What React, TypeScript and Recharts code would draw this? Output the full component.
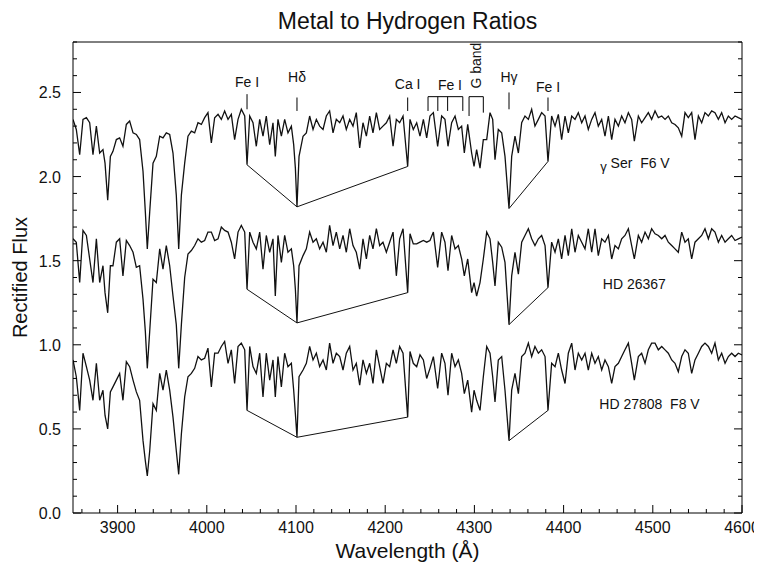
import React from 'react';
import { LineChart, Line, XAxis, YAxis, ReferenceLine, ReferenceDot, Label } from 'recharts';

const FONT = '"Liberation Sans", Arial, Helvetica, sans-serif';
const INK = '#111';

// wavelength grid (Angstrom), shared by the three spectra
const WAVE = [
  3850, 3853.7, 3857.5, 3861.2, 3865, 3868.7, 3872.4, 3876.2, 3879.9, 3883.6,
  3885.9, 3888.9, 3891.9, 3894.8, 3898.6, 3902.3, 3906, 3909.8, 3913.5, 3917.3,
  3921, 3924.7, 3928.5, 3931.1, 3933.3, 3936, 3939.7, 3943.4, 3947.2, 3950.9,
  3954.6, 3958.4, 3962.1, 3965.8, 3968.5, 3971.5, 3975.2, 3978.9, 3982.7, 3986.4,
  3990.1, 3993.9, 3997.6, 4001.3, 4005.1, 4008.8, 4012.6, 4016.3, 4020, 4023.8,
  4027.5, 4031.2, 4035, 4038.7, 4042.5, 4045.1, 4048.1, 4051.8, 4055.5, 4059.3,
  4063, 4066.7, 4070.5, 4074.2, 4076.8, 4079.8, 4083.6, 4087.3, 4091, 4094.8,
  4097.4, 4099.3, 4101.1, 4103.4, 4107.9, 4111.6, 4115.3, 4119.1, 4122.8, 4126.5,
  4130.3, 4134, 4137.7, 4141.5, 4145.2, 4149, 4152.7, 4156.4, 4160.2, 4163.9,
  4167.6, 4171.4, 4175.1, 4178.9, 4182.6, 4186.3, 4190.1, 4193.8, 4197.5, 4201.3,
  4205, 4208.8, 4212.5, 4216.2, 4220, 4225.2,
  4227.8, 4231.5, 4235.3, 4239, 4242.8, 4246.5, 4250.2, 4254, 4258.8, 4263.3,
  4267, 4270.4, 4274.5, 4278.3, 4282, 4285.7, 4288.7, 4292.5, 4296.9, 4299.6,
  4302.5, 4306.3, 4310, 4313.8, 4317.5, 4320.5, 4323.1, 4326.8, 4330.6, 4334.3,
  4338.8, 4341.8, 4345.5, 4349.3, 4353, 4356.7, 4360.5, 4364.2, 4367.9, 4371.7,
  4375.4, 4379.2, 4382.5, 4386.6, 4390.4, 4394.1, 4397.8, 4401.6, 4405.3, 4409.1,
  4412.8, 4416.5, 4420.3, 4424, 4427.7, 4431.5, 4435.2, 4438.9, 4442.7, 4446.4,
  4450.2, 4453.9, 4457.6, 4461.4, 4465.1, 4468.8, 4472.6, 4476.3, 4479.3, 4483.8,
  4487.5, 4491.3, 4495, 4498.7, 4502.5, 4506.2, 4510, 4513.7, 4517.4, 4521.2,
  4524.9, 4528.6, 4532.4, 4536.1, 4539.8, 4543.6, 4547.3, 4551.1, 4554.8, 4558.5,
  4562.3, 4566, 4569.7, 4573.5, 4577.2, 4581, 4584.7, 4588.4, 4592.2, 4595.9, 4600,
];

// gamma Ser F6 V (top)
const FLUX_GAMMA_SER = [
  2.34, 2.28, 2.13, 2.34, 2.35, 2.32, 2.13, 2.30, 2.14, 2.16,
  2.08, 1.86, 2.12, 2.15, 2.22, 2.23, 2.18, 2.31, 2.33, 2.26,
  2.25, 2.22, 2.03, 1.79, 1.57, 1.79, 2.08, 2.12, 2.24, 2.23,
  2.26, 2.25, 2.14, 1.89, 1.57, 1.89, 2.08, 2.24, 2.27, 2.26,
  2.32, 2.31, 2.35, 2.38, 2.20, 2.35, 2.37, 2.34, 2.39, 2.34,
  2.37, 2.22, 2.34, 2.40, 2.36, 2.07, 2.36, 2.32, 2.18, 2.34,
  2.24, 2.36, 2.19, 2.32, 2.12, 2.34, 2.24, 2.34, 2.26, 2.30,
  2.19, 2.05, 1.82, 2.12, 2.24, 2.26, 2.36, 2.28, 2.34, 2.30,
  2.28, 2.36, 2.39, 2.26, 2.34, 2.32, 2.36, 2.28, 2.34, 2.30,
  2.38, 2.17, 2.32, 2.24, 2.36, 2.26, 2.38, 2.28, 2.30, 2.32,
  2.36, 2.18, 2.34, 2.32, 2.36, 2.06,
  2.34, 2.28, 2.32, 2.24, 2.34, 2.23, 2.36, 2.38, 2.18, 2.36,
  2.34, 2.18, 2.32, 2.36, 2.28, 2.30, 2.14, 2.31, 2.14, 2.06,
  2.16, 2.05, 2.22, 2.22, 2.38, 2.34, 2.10, 2.28, 2.26, 2.12,
  1.81, 2.12, 2.24, 2.14, 2.32, 2.36, 2.34, 2.40, 2.30, 2.34,
  2.38, 2.36, 2.09, 2.36, 2.30, 2.37, 2.22, 2.36, 2.26, 2.36,
  2.34, 2.38, 2.32, 2.36, 2.28, 2.34, 2.38, 2.30, 2.34, 2.24,
  2.36, 2.22, 2.34, 2.30, 2.36, 2.32, 2.38, 2.34, 2.21, 2.36,
  2.32, 2.35, 2.38, 2.34, 2.39, 2.35, 2.36, 2.34, 2.36, 2.32,
  2.31, 2.29, 2.24, 2.38, 2.35, 2.38, 2.22, 2.36, 2.32, 2.38,
  2.36, 2.39, 2.38, 2.34, 2.38, 2.32, 2.36, 2.34, 2.36, 2.35, 2.34,
];

// HD 26367 (middle)
const FLUX_HD26367 = [
  1.63, 1.61, 1.37, 1.68, 1.65, 1.51, 1.37, 1.63, 1.37, 1.47,
  1.31, 1.19, 1.47, 1.47, 1.61, 1.63, 1.41, 1.62, 1.59, 1.55,
  1.46, 1.47, 1.27, 1.08, 0.86, 1.08, 1.39, 1.37, 1.57, 1.45,
  1.59, 1.47, 1.29, 1.12, 0.86, 1.12, 1.40, 1.54, 1.56, 1.59,
  1.63, 1.61, 1.62, 1.67, 1.67, 1.62, 1.63, 1.70, 1.68, 1.67,
  1.61, 1.51, 1.67, 1.71, 1.67, 1.33, 1.67, 1.61, 1.57, 1.67,
  1.45, 1.65, 1.55, 1.63, 1.29, 1.65, 1.49, 1.65, 1.55, 1.57,
  1.47, 1.33, 1.13, 1.47, 1.53, 1.57, 1.67, 1.61, 1.63, 1.57,
  1.61, 1.55, 1.71, 1.59, 1.67, 1.57, 1.65, 1.55, 1.69, 1.59,
  1.55, 1.45, 1.63, 1.51, 1.65, 1.57, 1.69, 1.59, 1.61, 1.55,
  1.61, 1.67, 1.41, 1.63, 1.69, 1.31,
  1.66, 1.60, 1.60, 1.61, 1.62, 1.61, 1.62, 1.67, 1.46, 1.67,
  1.61, 1.44, 1.65, 1.57, 1.59, 1.51, 1.41, 1.51, 1.31, 1.37,
  1.29, 1.37, 1.51, 1.67, 1.63, 1.49, 1.35, 1.61, 1.58, 1.49,
  1.12, 1.41, 1.55, 1.42, 1.61, 1.65, 1.69, 1.63, 1.59, 1.63,
  1.65, 1.59, 1.34, 1.61, 1.55, 1.63, 1.51, 1.65, 1.53, 1.69,
  1.55, 1.65, 1.61, 1.57, 1.69, 1.55, 1.69, 1.53, 1.63, 1.61,
  1.65, 1.51, 1.59, 1.57, 1.63, 1.65, 1.69, 1.59, 1.51, 1.65,
  1.61, 1.67, 1.63, 1.69, 1.66, 1.65, 1.63, 1.65, 1.61, 1.59,
  1.57, 1.55, 1.67, 1.61, 1.63, 1.51, 1.61, 1.63, 1.65, 1.69,
  1.63, 1.69, 1.67, 1.61, 1.65, 1.61, 1.63, 1.65, 1.62, 1.63, 1.64,
];

// HD 27808 F8 V (bottom)
const FLUX_HD27808 = [
  0.91, 0.81, 0.61, 0.95, 0.87, 0.79, 0.67, 0.89, 0.67, 0.73,
  0.58, 0.50, 0.72, 0.75, 0.79, 0.83, 0.67, 0.90, 0.87, 0.79,
  0.72, 0.67, 0.43, 0.31, 0.22, 0.37, 0.65, 0.61, 0.83, 0.73,
  0.85, 0.73, 0.57, 0.37, 0.23, 0.47, 0.69, 0.81, 0.83, 0.86,
  0.93, 0.91, 0.92, 0.98, 0.75, 0.95, 0.95, 0.99, 1.02, 0.89,
  0.97, 0.77, 0.99, 1.01, 0.97, 0.61, 0.99, 0.87, 0.83, 0.95,
  0.69, 0.95, 0.79, 0.91, 0.69, 0.93, 0.75, 0.95, 0.87, 0.89,
  0.73, 0.59, 0.45, 0.81, 0.85, 0.89, 0.99, 0.91, 0.95, 0.87,
  0.91, 0.85, 1.01, 0.89, 0.95, 0.93, 0.85, 0.95, 0.99, 0.85,
  0.89, 0.76, 0.91, 0.83, 0.89, 0.77, 0.97, 0.87, 0.77, 0.89,
  0.87, 0.97, 0.89, 0.99, 0.95, 0.57,
  0.96, 0.89, 0.87, 0.94, 0.91, 0.80, 0.86, 0.93, 0.74, 0.95,
  0.89, 0.70, 0.95, 0.87, 0.91, 0.83, 0.71, 0.79, 0.60, 0.73,
  0.67, 0.61, 0.81, 0.99, 0.95, 0.81, 0.66, 0.91, 0.93, 0.73,
  0.43, 0.73, 0.83, 0.71, 0.93, 0.95, 1.01, 0.93, 0.99, 0.95,
  0.97, 0.93, 0.61, 0.89, 0.87, 0.95, 0.85, 0.77, 0.95, 1.01,
  0.85, 0.95, 0.91, 0.95, 0.85, 0.95, 0.89, 0.93, 0.85, 0.91,
  0.87, 0.77, 0.87, 0.89, 0.93, 0.97, 1.01, 0.89, 0.79, 0.93,
  0.95, 0.89, 0.97, 1.01, 1.01, 0.97, 0.99, 0.97, 0.95, 0.91,
  0.89, 0.84, 0.93, 0.97, 0.95, 0.83, 0.91, 0.95, 0.99, 1.01,
  0.99, 0.95, 1.01, 0.91, 0.95, 0.89, 0.93, 0.95, 0.93, 0.95, 0.94,
];

// line-depth connectors: Fe I 4045 - Hdelta - Ca I 4226, then Hgamma - Fe I 4383
const LINK_WAVE = [4045.1, 4101.1, 4225.2, 4300, 4338.8, 4382.5];
const LINK_GAMMA_SER = [2.07, 1.82, 2.06, null, 1.81, 2.09];
const LINK_HD26367 = [1.33, 1.13, 1.31, null, 1.12, 1.34];
const LINK_HD27808 = [0.61, 0.45, 0.57, null, 0.43, 0.61];

// line identifications above the top spectrum
const LINE_IDS = [
  { w: 4045.1, top: 2.49, bottom: 2.4, text: 'Fe I', ty: 2.56 },
  { w: 4101.1, top: 2.47, bottom: 2.39, text: 'H\u03b4', ty: 2.59 },
  { w: 4225.2, top: 2.47, bottom: 2.39, text: 'Ca I', ty: 2.55 },
  { w: 4338.8, top: 2.5, bottom: 2.4, text: 'H\u03b3', ty: 2.59 },
  { w: 4382.5, top: 2.47, bottom: 2.39, text: 'Fe I', ty: 2.53 },
];
const FE_BRACKET = [4248, 4259, 4270, 4287];
const G_BRACKET = [4294, 4310];
const BRACKET_Y = 2.475;

const STAR_LABELS = [
  { w: 4441, f: 2.08, greek: '\u03b3', text: 'Ser  F6 V' },
  { w: 4444, f: 1.36, greek: '', text: 'HD 26367' },
  { w: 4440, f: 0.65, greek: '', text: 'HD 27808  F8 V' },
];

const X_TICKS = Array.from({ length: 38 }, (_, i) => 3860 + i * 20);
const Y_TICKS = Array.from({ length: 29 }, (_, i) => i / 10);

const toRows = (ws, fs) => ws.map((w, i) => ({ w, f: fs[i] }));
const TOP_DATA = toRows(WAVE, FLUX_GAMMA_SER);
const MID_DATA = toRows(WAVE, FLUX_HD26367);
const BOT_DATA = toRows(WAVE, FLUX_HD27808);

const isMajorX = (v) => v % 100 === 0;
const isMajorY = (v) => Math.round(v * 10) % 5 === 0;

const BottomTick = ({ x, y, payload }: any) => {
  const major = isMajorX(payload.value);
  return (
    <g>
      <line x1={x} x2={x} y1={y} y2={y - (major ? 8 : 4)} stroke="#000" />
      {major && (
        <text x={x} y={y + 20} textAnchor="middle" fontSize={16} fontFamily={FONT} fill={INK}>
          {payload.value}
        </text>
      )}
    </g>
  );
};

const TopTick = ({ x, y, payload }: any) => {
  const major = isMajorX(payload.value);
  return <line x1={x} x2={x} y1={y} y2={y + (major ? 8 : 4)} stroke="#000" />;
};

const LeftTick = ({ x, y, payload }: any) => {
  const major = isMajorY(payload.value);
  return (
    <g>
      <line x1={x} x2={x + (major ? 8 : 4)} y1={y} y2={y} stroke="#000" />
      {major && (
        <text x={x - 12} y={y + 6} textAnchor="end" fontSize={16} fontFamily={FONT} fill={INK}>
          {payload.value.toFixed(1)}
        </text>
      )}
    </g>
  );
};

const RightTick = ({ x, y, payload }: any) => {
  const major = isMajorY(payload.value);
  return <line x1={x} x2={x - (major ? 8 : 4)} y1={y} y2={y} stroke="#000" />;
};

const idText = (text, rotate = false) => (props: any) => (
  <text
    x={props.cx}
    y={props.cy}
    textAnchor="middle"
    dominantBaseline="central"
    fontSize={14}
    fontFamily={FONT}
    fill={INK}
    transform={rotate ? `rotate(-90 ${props.cx} ${props.cy})` : undefined}
  >
    {text}
  </text>
);

const starText = (greek, text) => (props: any) => (
  <text x={props.cx} y={props.cy} dominantBaseline="central" fontSize={14} fontFamily={FONT} fill={INK} style={{ whiteSpace: 'pre' }}>
    {greek && <tspan fontSize={13} dy={3}>{greek}</tspan>}
    {greek && <tspan dy={-3}> </tspan>}
    {text}
  </text>
);

export default function App() {
  const seg = (x1, y1, x2, y2, key) => (
    <ReferenceLine key={key} segment={[{ x: x1, y: y1 }, { x: x2, y: y2 }]} stroke="#000" strokeWidth={1} ifOverflow="visible" />
  );

  return (
    <div style={{ width: 754, height: 555 }}>
      <LineChart width={754} height={555} margin={{ top: 0, right: 0, bottom: 0, left: 0 }} style={{ overflow: 'visible' }}>
        <XAxis
          xAxisId={0}
          dataKey="w"
          type="number"
          domain={[3850, 4600]}
          ticks={X_TICKS}
          interval={0}
          height={50}
          tickSize={0}
          tickMargin={0}
          tickLine={false}
          axisLine={{ stroke: '#000' }}
          tick={(p) => <BottomTick {...p} />}
          allowDataOverflow
        >
          <Label value="Wavelength (Å)" position="insideBottom" offset={5} fontSize={21} fontFamily={FONT} fill={INK} />
        </XAxis>
        <XAxis
          xAxisId="top"
          orientation="top"
          type="number"
          domain={[3850, 4600]}
          ticks={X_TICKS}
          interval={0}
          height={34}
          tickSize={0}
          tickMargin={0}
          tickLine={false}
          axisLine={{ stroke: '#000' }}
          tick={(p) => <TopTick {...p} />}
          allowDataOverflow
        >
          <Label value="Metal to Hydrogen Ratios" position="insideTop" offset={5} fontSize={23} fontFamily={FONT} fill={INK} />
        </XAxis>
        <YAxis
          yAxisId={0}
          type="number"
          domain={[0, 2.8]}
          ticks={Y_TICKS}
          interval={0}
          width={65}
          tickSize={0}
          tickMargin={0}
          tickLine={false}
          axisLine={{ stroke: '#000' }}
          tick={(p) => <LeftTick {...p} />}
          allowDataOverflow
        >
          <Label
            value="Rectified Flux"
            angle={-90}
            position="insideLeft"
            offset={12}
            fontSize={20}
            fontFamily={FONT}
            fill={INK}
            style={{ textAnchor: 'middle' }}
          />
        </YAxis>
        <YAxis
          yAxisId="right"
          orientation="right"
          type="number"
          domain={[0, 2.8]}
          ticks={Y_TICKS}
          interval={0}
          width={20}
          tickSize={0}
          tickMargin={0}
          tickLine={false}
          axisLine={{ stroke: '#000' }}
          tick={(p) => <RightTick {...p} />}
          allowDataOverflow
        />

        <Line data={TOP_DATA} dataKey="f" stroke={INK} strokeWidth={1.3} dot={false} isAnimationActive={false} />
        <Line data={MID_DATA} dataKey="f" stroke={INK} strokeWidth={1.3} dot={false} isAnimationActive={false} />
        <Line data={BOT_DATA} dataKey="f" stroke={INK} strokeWidth={1.3} dot={false} isAnimationActive={false} />

        <Line data={toRows(LINK_WAVE, LINK_GAMMA_SER)} dataKey="f" stroke={INK} strokeWidth={1} dot={false} isAnimationActive={false} />
        <Line data={toRows(LINK_WAVE, LINK_HD26367)} dataKey="f" stroke={INK} strokeWidth={1} dot={false} isAnimationActive={false} />
        <Line data={toRows(LINK_WAVE, LINK_HD27808)} dataKey="f" stroke={INK} strokeWidth={1} dot={false} isAnimationActive={false} />

        {LINE_IDS.map((d, i) => seg(d.w, d.top, d.w, d.bottom, `id${i}`))}
        {LINE_IDS.map((d, i) => (
          <ReferenceDot key={`idt${i}`} x={d.w} y={d.ty} r={0} ifOverflow="visible" shape={idText(d.text)} />
        ))}

        {seg(FE_BRACKET[0], BRACKET_Y, FE_BRACKET[FE_BRACKET.length - 1], BRACKET_Y, 'feh')}
        {FE_BRACKET.map((w, i) => seg(w, BRACKET_Y, w, 2.39, `fe${i}`))}
        <ReferenceDot x={4272.6} y={2.545} r={0} ifOverflow="visible" shape={idText('Fe I')} />

        {seg(G_BRACKET[0], BRACKET_Y, G_BRACKET[1], BRACKET_Y, 'gh')}
        {seg(G_BRACKET[0], BRACKET_Y, G_BRACKET[0], 2.36, 'g0')}
        {seg(G_BRACKET[1], BRACKET_Y, G_BRACKET[1], 2.38, 'g1')}
        <ReferenceDot x={4302} y={2.66} r={0} ifOverflow="visible" shape={idText('G band', true)} />

        {STAR_LABELS.map((s, i) => (
          <ReferenceDot key={`star${i}`} x={s.w} y={s.f} r={0} ifOverflow="visible" shape={starText(s.greek, s.text)} />
        ))}
      </LineChart>
    </div>
  );
}
